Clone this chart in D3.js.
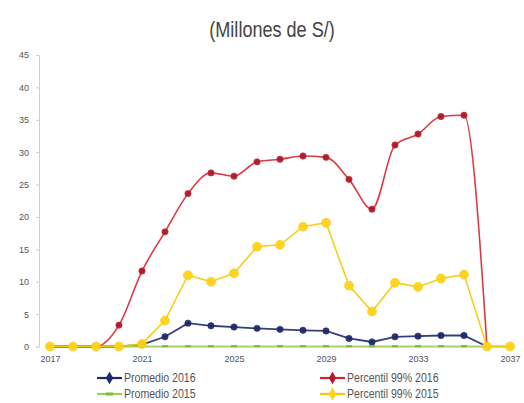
<!DOCTYPE html>
<html><head><meta charset="utf-8">
<script src="https://cdn.jsdelivr.net/npm/d3@7"></script>
<style>
body{margin:0;background:#fff;}
svg{display:block;}
text{font-family:"Liberation Sans Narrow","Liberation Sans",Arial,sans-serif;}
</style></head>
<body>
<svg id="c" width="524" height="403"></svg>
<script>
const years = d3.range(2017, 2038);
const xTicks = [2017, 2021, 2025, 2029, 2033, 2037];
const yTicks = [0, 5, 10, 15, 20, 25, 30, 35, 40, 45];
const promedio2016 = [0,0,0,0,0.3,1.5,3.6,3.2,3.0,2.8,2.65,2.5,2.4,1.25,0.7,1.5,1.6,1.7,1.7,0,null];
const percentil2016 = [0,0,0,3.3,11.65,17.7,23.6,26.8,26.3,28.5,28.9,29.4,29.2,25.8,21.2,31.1,32.8,35.5,35.7,0,null];
const promedio2015 = [0.05,0.05,0.05,0.05,0.05,0.05,0.05,0.05,0.05,0.05,0.05,0.05,0.05,0.05,0.05,0.05,0.05,0.05,0.05,0.05,0.05];
const percentil2015 = [0,0,0,0,0.4,4.0,11.0,10.0,11.3,15.4,15.7,18.5,19.1,9.4,5.4,9.85,9.2,10.5,11.1,0,0];

const series = [
  {name:"Percentil 99% 2016", values:percentil2016, line:"#d8232f", fill:"#a31c2c", shape:d3.symbolCircle, size:32, curve:d3.curveMonotoneX, w:1.6},
  {name:"Promedio 2016", values:promedio2016, line:"#1f2a6b", fill:"#1f2a6b", shape:d3.symbolCircle, size:32, curve:d3.curveLinear, w:1.8},
  {name:"Promedio 2015", values:promedio2015, line:"#9ccf5a", fill:"#9ccf5a", shape:"dash", size:0, curve:d3.curveLinear, w:1.4},
  {name:"Percentil 99% 2015", values:percentil2015, line:"#f6c900", fill:"#ffd21a", shape:d3.symbolCircle, size:64, curve:d3.curveLinear, w:1.6}
];

const svg = d3.select("#c");
const x = d3.scaleLinear().domain([2017, 2037]).range([50, 510]);
const y = d3.scaleLinear().domain([0, 45]).range([346.5, 55]);

svg.append("text").attr("transform","translate(272,37) scale(0.86,1.05)").attr("text-anchor","middle")
  .attr("font-size", 21).attr("fill","#444").text("(Millones de S/)");

// y axis
const yAxis = svg.append("g").attr("transform","translate(39,0)")
  .call(d3.axisLeft(y).tickValues(yTicks).tickSize(3).tickPadding(7));
yAxis.select(".domain").attr("stroke","#cfcfcf");
yAxis.selectAll(".tick line").attr("stroke","#cfcfcf");
yAxis.selectAll(".tick text").attr("font-size", 9).attr("fill","#555")
  .style("font-family",'"Liberation Sans Narrow","Liberation Sans",Arial,sans-serif');

// x axis
const xAxis = svg.append("g").attr("transform","translate(0,347)")
  .call(d3.axisBottom(x).tickValues(xTicks).tickFormat(d3.format("d")).tickSize(0).tickPadding(9));
xAxis.select(".domain").attr("stroke","#d8d8d8");
xAxis.selectAll(".tick text").attr("font-size", 9).attr("fill","#555")
  .style("font-family",'"Liberation Sans Narrow","Liberation Sans",Arial,sans-serif');

series.forEach(s => {
  const pts = years.map((yr,i)=>({yr, v:s.values[i]})).filter(d=>d.v!==null);
  const line = d3.line().x(d=>x(d.yr)).y(d=>y(d.v)).curve(s.curve);
  svg.append("path").datum(pts).attr("d", line).attr("fill","none")
    .attr("stroke", s.line).attr("stroke-width", s.w).attr("opacity",0.9);
  const g = svg.append("g");
  if (s.shape === "dash") {
    g.selectAll("line").data(pts).join("line")
      .attr("x1",d=>x(d.yr)-3).attr("x2",d=>x(d.yr)+3)
      .attr("y1",d=>y(d.v)).attr("y2",d=>y(d.v))
      .attr("stroke","#7cbf3a").attr("stroke-width",2.2);
  } else {
    const sym = d3.symbol().type(s.shape).size(s.size);
    const mpts = (s.name === "Percentil 99% 2016") ? pts.filter(d=>d.yr>=2020 && d.yr<=2035)
               : (s.name === "Promedio 2016") ? pts.filter(d=>d.yr>=2021 && d.yr<=2035) : pts;
    g.selectAll("path").data(mpts).join("path")
      .attr("d", sym).attr("transform", d=>`translate(${x(d.yr)},${y(d.v)})`)
      .attr("fill", s.fill).attr("stroke", s.line).attr("stroke-width",0.6).attr("opacity",0.95);
  }
});

// legend
const legendItems = [
  {s:series[1], x:97, y:378},
  {s:series[0], x:320, y:378},
  {s:series[2], x:97, y:394},
  {s:series[3], x:320, y:394}
];
legendItems.forEach(({s,x:lx,y:ly}) => {
  const g = svg.append("g");
  g.append("line").attr("x1",lx).attr("x2",lx+25).attr("y1",ly).attr("y2",ly)
    .attr("stroke", s.line).attr("stroke-width", 2.2);
  if (s.shape === "dash") {
    g.append("line").attr("x1",lx+9).attr("x2",lx+16).attr("y1",ly).attr("y2",ly)
      .attr("stroke","#7cbf3a").attr("stroke-width",3);
  } else {
    g.append("path").attr("d", d3.symbol().type(d3.symbolDiamond).size(40))
      .attr("transform",`translate(${lx+12.5},${ly})`).attr("fill", s.fill).attr("stroke", s.line).attr("stroke-width",0.5);
  }
  g.append("text").attr("transform",`translate(${lx+27},${ly+4}) scale(0.88,1)`).attr("font-size", 12)
    .attr("fill","#555").text(s.name);
});
</script>
</body></html>
